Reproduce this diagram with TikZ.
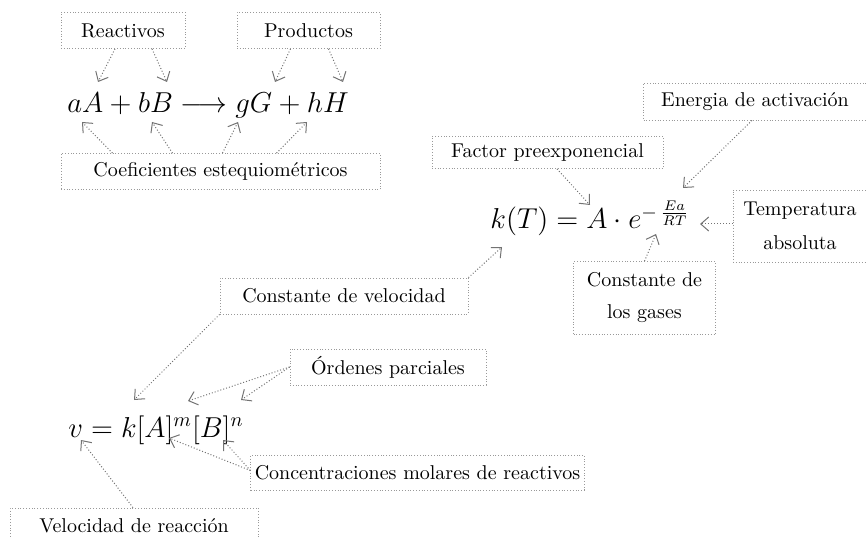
\documentclass[tikz,border=0pt]{standalone}
\usetikzlibrary{arrows.meta}
\begin{document}
\begin{tikzpicture}[x=0.5pt,y=-0.5pt,
  caja/.style={draw=gray!80,densely dotted,inner xsep=5pt,inner ysep=2pt,minimum height=18pt,align=center},
  flecha/.style={black!55,densely dotted,line width=0.5pt,-{Straight Barb[length=4pt,width=7pt]}},
  formula/.style={anchor=base west,inner sep=0pt,font=\Large}]
\useasboundingbox (0,0) rectangle (866,539);
% reaccion
\node[caja,minimum width=62pt] (reac) at (123,30.5) {Reactivos};
\node[caja,minimum width=71.5pt] (prod) at (308.5,30.5) {Productos};
\node[formula] (eqreac) at (67,113) {$aA+bB\longrightarrow gG+hH$};
\node[caja,minimum width=159.5pt] (coef) at (220.5,171.5) {Coeficientes estequiométricos};
\coordinate (ra) at (98,82);
\coordinate (rb) at (167,82);
\coordinate (pg) at (275,82);
\coordinate (ph) at (343,82);
\coordinate (ca) at (82,122);
\coordinate (cb) at (152,122);
\coordinate (cg) at (238,122);
\coordinate (ch) at (307,122);
\draw[flecha] ([xshift=-4pt]reac.south) -- (ra);
\draw[flecha] ([xshift=14.5pt]reac.south) -- (rb);
\draw[flecha] ([xshift=-9pt]prod.south) -- (pg);
\draw[flecha] ([xshift=10pt]prod.south) -- (ph);
\draw[flecha] ([xshift=-54pt]coef.north) -- (ca);
\draw[flecha] ([xshift=-24pt]coef.north) -- (cb);
\draw[flecha] ([xshift=1pt]coef.north) -- (cg);
\draw[flecha] ([xshift=28pt]coef.north) -- (ch);
% Arrhenius
\node[caja,minimum width=111.5pt,minimum height=18.5pt] (energ) at (755,101.5) {Energia de activación};
\node[caja,minimum width=115.5pt,minimum height=16pt] (fact) at (547.5,152.5) {Factor preexponencial};
\node[formula] (eqarr) at (490,229) {$k(T)=A\cdot e^{-\,\frac{Ea}{RT}}$};
\node[caja,minimum width=67pt,minimum height=36pt] (temp) at (800,226) {Temperatura\\[5pt]absoluta};
\node[caja,minimum width=71pt,minimum height=36.5pt] (gases) at (644.5,298) {Constante de\\[4pt]los gases};
\node[caja,minimum width=124pt] (cvel) at (344,296) {Constante de velocidad};
\coordinate (te) at (683,188);
\coordinate (ta) at (590,205);
\coordinate (tt) at (700,224);
\coordinate (tr) at (656,234);
\coordinate (tk) at (502,247);
\draw[flecha] ([xshift=-1.5pt]energ.south) -- (te);
\draw[flecha] ([xshift=4.75pt]fact.south) -- (ta);
\draw[flecha] ([yshift=1pt]temp.west) -- (tt);
\draw[flecha] ([xshift=0pt]gases.north) -- (tr);
\draw[flecha] (cvel.north east) -- (tk);
% ley de velocidad
\node[formula] (eqvel) at (68,437) {$v=k[A]^m[B]^n$};
\node[caja,minimum width=98pt] (orden) at (388,367) {Órdenes parciales};
\node[caja,inner xsep=2pt,minimum width=162.5pt,minimum height=17.5pt] (conc) at (417.5,472.5) {Concentraciones molares de reactivos};
\node[caja,minimum width=124pt] (veloc) at (134,526) {Velocidad de reacción};
\coordinate (vk) at (134,400);
\coordinate (vm) at (188,401);
\coordinate (vn) at (241,400);
\coordinate (va) at (169,438);
\coordinate (vb) at (223,440);
\coordinate (vv) at (81,440);
\draw[flecha] (cvel.south west) -- (vk);
\draw[flecha] (orden.west) -- (vm);
\draw[flecha] (orden.west) -- (vn);
\draw[flecha] ([yshift=1pt]conc.west) -- (va);
\draw[flecha] ([yshift=1pt]conc.west) -- (vb);
\draw[flecha] ([xshift=-0.5pt]veloc.north) -- (vv);
\end{tikzpicture}
\end{document}
